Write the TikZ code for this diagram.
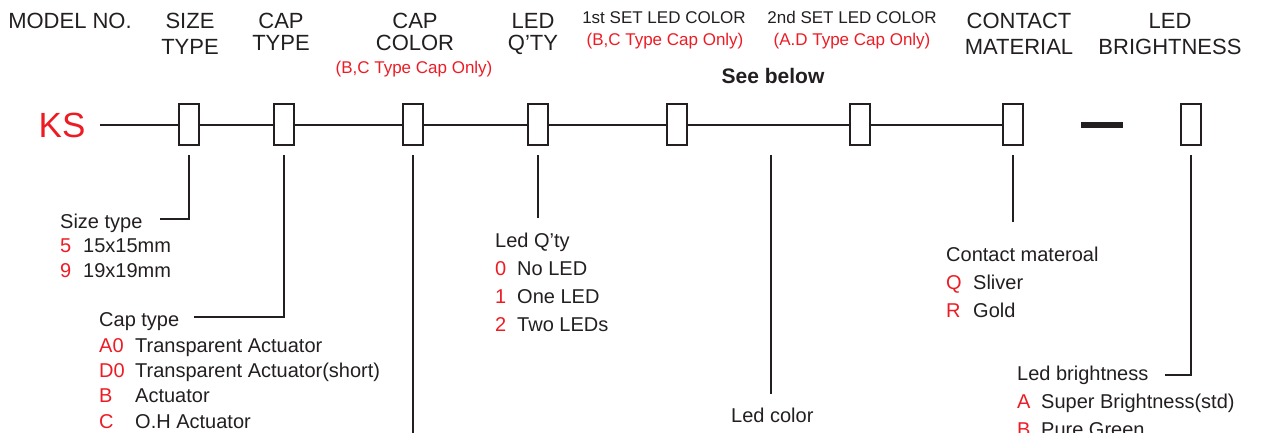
\documentclass[tikz,border=0pt]{standalone}
\usepackage{fontspec}
\setmainfont{Liberation Sans}
\usetikzlibrary{
  positioning,
  calc
}
\definecolor{ink}{RGB}{35,31,32}
\definecolor{kred}{RGB}{237,28,36}
\newcommand{\optcode}[2]{\makebox[#1][l]{\color{kred}#2}}

\tikzset{
  hdr/.style={font=\fontsize{22}{26}\selectfont, text=ink, align=center, inner sep=0pt, anchor=base},
  hdrtight/.style={hdr, font=\fontsize{22}{22}\selectfont},
  sub/.style={font=\fontsize{17}{20}\selectfont, text=ink, inner sep=0pt, anchor=base},
  slot/.style={draw=ink, line width=2pt, minimum width=20pt, minimum height=41pt, inner sep=0pt},
  wire/.style={draw=ink, line width=2pt},
  leader/.style={draw=ink, line width=1.8pt},
  optlist/.style={font=\fontsize{20}{28}\selectfont, text=ink, align=left, inner sep=0pt, anchor=base west}
}

\begin{document}
\begin{tikzpicture}[x=1pt, y=-1pt]
  \useasboundingbox (0,0) rectangle (1262,432);
  \clip (0,0) rectangle (1262,432);

  % column headings (base = last line)
  \node[hdr] (model) at (70,28) {MODEL NO.};
  \node[hdr] (size) at (190,54) {SIZE\\TYPE};
  \node[hdrtight] (captype) at (281,50) {CAP\\TYPE};
  \node[hdrtight] (capcol) at (415,50) {CAP\\COLOR};
  \node[sub, text=kred] (capcolnote) at (414,73) {(B,C Type Cap Only)};
  \node[hdrtight] (qty) at (533,50) {LED\\Q’TY};
  \node[sub] (set1) at (664,23) {1st SET LED COLOR};
  \node[sub, text=kred] (set1note) at (665,45) {(B,C Type Cap Only)};
  \node[sub] (set2) at (852,23) {2nd SET LED COLOR};
  \node[sub, text=kred] (set2note) at (852,45) {(A.D Type Cap Only)};
  \node[hdr] (contact) at (1019,54) {CONTACT\\MATERIAL};
  \node[hdr] (bright) at (1170,54) {LED\\BRIGHTNESS};
  \node[sub, font=\fontsize{21}{24}\selectfont\bfseries] (seebelow) at (773,83) {See below};

  % model code line
  \node[font=\fontsize{35}{40}\selectfont, text=kred, inner sep=0pt, anchor=base] (ks) at (62,137) {KS};
  \coordinate (start) at (100,124.5);
  \node[slot] (b1) at (189,124.5) {};
  \node[slot] (b2) at (284,124.5) {};
  \node[slot] (b3) at (413,124.5) {};
  \node[slot] (b4) at (538,124.5) {};
  \node[slot] (b5) at (677,124.5) {};
  \node[slot] (b6) at (860,124.5) {};
  \node[slot] (b7) at (1013,124.5) {};
  \node[slot] (b8) at (1191,124.5) {};
  \draw[wire] (start) -- (b1.west) (b1.east) -- (b2.west) (b2.east) -- (b3.west)
    (b3.east) -- (b4.west) (b4.east) -- (b5.west) (b5.east) -- (b6.west) (b6.east) -- (b7.west);
  \coordinate (dashl) at (1081,124.5);
  \coordinate (dashr) at (1123,124.5);
  \draw[ink, line width=6pt] (dashl) -- (dashr);

  % leaders
  \coordinate (sizeend) at (160,219);
  \coordinate (captypeend) at (194,317);
  \coordinate (capcolend) at (413,440);
  \coordinate (qtyend) at (538,218);
  \coordinate (ledtop) at (771,155);
  \coordinate (ledbot) at (771,394);
  \coordinate (contactend) at (1013,222);
  \coordinate (brightend) at (1165,375);
  \draw[leader] ([yshift=-9pt]b1.south) |- (sizeend);
  \draw[leader] ([yshift=-9pt]b2.south) |- (captypeend);
  \draw[leader] ([yshift=-9pt]b3.south) -- (capcolend);
  \draw[leader] ([yshift=-9pt]b4.south) -- (qtyend);
  \draw[leader] (ledtop) -- (ledbot);
  \draw[leader] ([yshift=-9pt]b7.south) -- (contactend);
  \draw[leader] ([yshift=-9pt]b8.south) |- (brightend);

  % option lists (base = last line)
  \node[optlist, font=\fontsize{20}{24.5}\selectfont] (sizelist) at (60,277)
    {Size type\\\optcode{23pt}{5}15x15mm\\\optcode{23pt}{9}19x19mm};
  \node[optlist, font=\fontsize{20}{25.3}\selectfont] (captypelist) at (99,428)
    {Cap type\\\optcode{36pt}{A0}Transparent Actuator\\\optcode{36pt}{D0}Transparent Actuator(short)\\\optcode{36pt}{B}Actuator\\\optcode{36pt}{C}O.H Actuator};
  \node[optlist] (qtylist) at (495,331)
    {Led Q’ty\\\optcode{22pt}{0}No LED\\\optcode{22pt}{1}One LED\\\optcode{22pt}{2}Two LEDs};
  \node[optlist] (ledcolor) at (731,422) {Led color};
  \node[optlist] (contactlist) at (946,317)
    {Contact materoal\\\optcode{27pt}{Q}Sliver\\\optcode{27pt}{R}Gold};
  \node[optlist] (brightlist) at (1017,436)
    {Led brightness\\\optcode{24pt}{A}Super Brightness(std)\\\optcode{24pt}{B}Pure Green};
\end{tikzpicture}
\end{document}
